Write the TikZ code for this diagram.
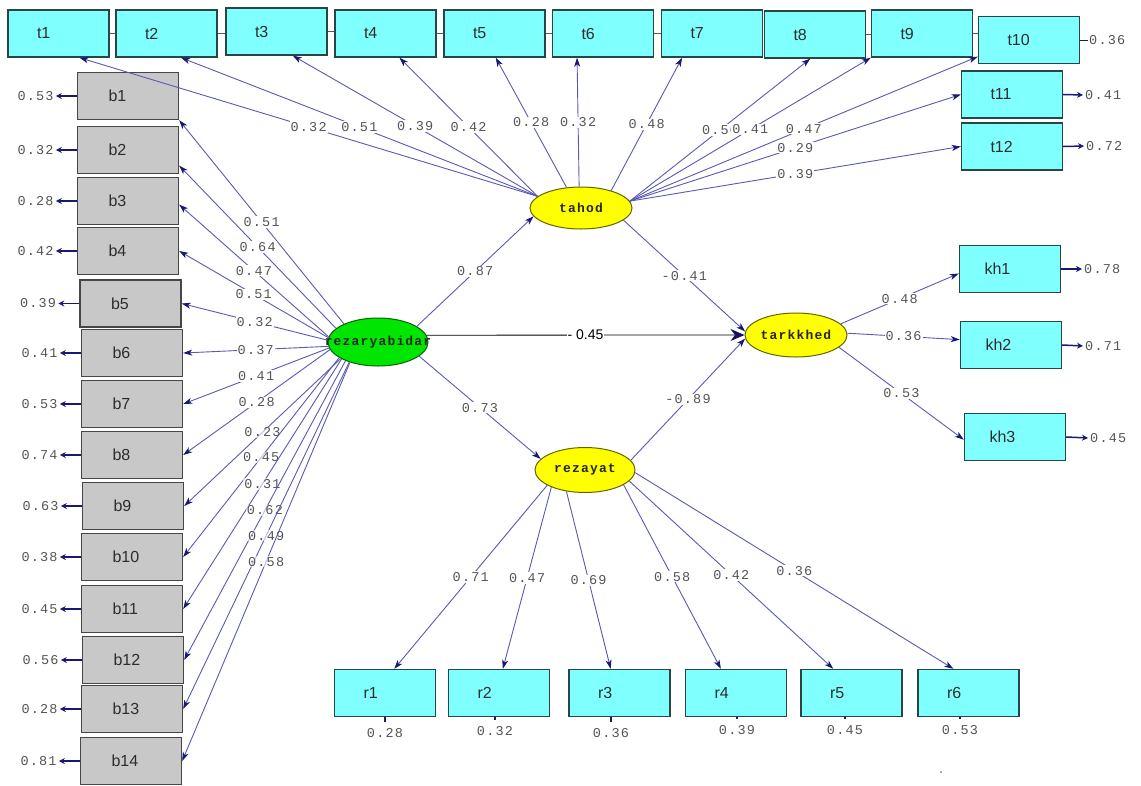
\documentclass[tikz,border=0pt]{standalone}
\usepackage{fontspec}
\setmainfont{Liberation Sans}
\newfontfamily\numfont[LetterSpace=9]{Liberation Mono}
\usetikzlibrary{arrows.meta,shapes.geometric}
\definecolor{cyanbox}{RGB}{128,255,255}
\definecolor{cyanbd}{RGB}{40,70,70}
\definecolor{graybox}{RGB}{200,200,200}
\definecolor{graybd}{RGB}{70,70,70}
\definecolor{lvfill}{RGB}{255,255,0}
\definecolor{lvbd}{RGB}{100,100,0}
\definecolor{grfill}{RGB}{0,230,0}
\definecolor{grbd}{RGB}{0,100,0}
\definecolor{lnc}{RGB}{90,90,180}
\definecolor{hdc}{RGB}{25,25,115}
\definecolor{numc}{RGB}{85,85,85}
\definecolor{txtc}{RGB}{45,45,45}
\begin{document}
\begin{tikzpicture}[x=1pt,y=-1pt,
  obs/.style={rectangle, draw=cyanbd, line width=1.4pt, fill=cyanbox, minimum height=47pt,
    text width=43pt, inner xsep=29pt, inner ysep=0pt, align=left, text=txtc,
    font=\fontsize{16}{16}\selectfont},
  obsg/.style={obs, draw=graybd, fill=graybox, inner xsep=31pt, text width=39pt},
  lat/.style={ellipse, draw=lvbd, line width=1pt, fill=lvfill, inner sep=0pt,
    font=\numfont\bfseries\fontsize{13}{13}\selectfont, text=black!85},
  latg/.style={lat, draw=grbd, fill=grfill},
  arr/.style={draw=lnc, line width=0.9pt, -{Stealth[length=9pt,width=6pt,inset=2.5pt,color=hdc]}},
  err/.style={draw=hdc, line width=1.5pt, -{Stealth[length=6pt,width=6pt]}, shorten >=1pt},
  tickst/.style={draw=hdc, line width=1.6pt, shorten <=5pt},
  gapl/.style={draw=gray!70!black, line width=0.6pt},
  num/.style={font=\numfont\fontsize{13.5}{14}\selectfont, text=numc, inner sep=1pt},
  pl/.style={num, fill=white},
  plt/.style={num, fill=white, fill opacity=0.6, text opacity=1},
]
\useasboundingbox (0,0) rectangle (1141,785);
\fill[white] (0,0) rectangle (1141,785);

% ---- t boxes
\foreach \n/\x/\y in {1/58.5/33.5, 2/166.5/33.5, 3/276.5/31.5, 4/385.5/33.5, 5/494.5/33.5,
  6/603/33.5, 7/712/33.5, 8/815/34.5, 9/922/33.5, 10/1029/40, 11/1012/94.5, 12/1012/146.5}
  \node[obs] (t\n) at (\x,\y) {t\n};

% ---- b boxes
\foreach \n/\x/\y in {1/128/96, 2/128/150, 3/128/201, 4/128/251, 5/130.5/303.5, 6/132/353,
  7/132/404, 8/132/455, 9/133/506, 10/132/557, 11/132/609, 12/133/660, 13/132/709, 14/131/761}
  \node[obsg] (b\n) at (\x,\y) {b\n};

% ---- r boxes
\foreach \n/\x in {1/385, 2/499, 3/619.5, 4/736, 5/851.5, 6/968.5}
  \node[obs] (r\n) at (\x,693) {r\n};

% ---- kh boxes
\node[obs, inner xsep=25pt, text width=51pt] (kh1) at (1010,269) {kh1};
\node[obs, inner xsep=25pt, text width=51pt] (kh2) at (1011,345) {kh2};
\node[obs, inner xsep=25pt, text width=51pt] (kh3) at (1015,437) {kh3};

% ---- latent variables
\node[latg, minimum width=100pt, minimum height=48pt] (rz) at (378,342) {\makebox[0pt]{rezaryabidar}};
\node[lat, minimum width=102pt, minimum height=42pt] (tahod) at (581,208) {\makebox[0pt]{tahod}};
\node[lat, minimum width=102pt, minimum height=44pt] (tk) at (796,335) {\makebox[0pt]{tarkkhed}};
\node[lat, minimum width=100pt, minimum height=45pt] (rezayat) at (585,470) {\makebox[0pt]{rezayat}};

% ---- small gaps between t boxes
\foreach \a/\b in {1/2, 2/3, 3/4, 4/5, 5/6, 6/7, 8/9, 9/10}
  \draw[gapl] (t\a.east) -- (t\a.east -| t\b.west);

% ---- tahod -> t
\foreach \n/\s/\e/\v in {1/165/-49/0.32, 2/165/-59/0.51, 3/165/-56/0.39, 4/165/-60/0.42,
  5/125/-87/0.28, 6/95/-137/0.32, 7/30/-141/0.48, 8/8/-101/0.50, 9/8/south west/0.41,
  10/8/-162/0.47, 11/8/west/0.29, 12/8/west/0.39}
  \draw[arr] (tahod.\s) -- node[pl, midway] {\v} (t\n.\e);

% ---- rezaryabidar -> b
\foreach \n/\s/\e/\v in {1/152/south east/0.51, 2/162/-17/0.64, 3/174/-4/0.47, 4/175/east/0.51,
  5/178/east/0.32, 6/185/east/0.37, 7/187/east/0.41, 8/189/east/0.28}
  \draw[arr] (rz.\s) -- node[pl, midway] {\v} (b\n.\e);
\foreach \n/\s/\e/\v in {9/204/east/0.23, 10/202/east/0.45, 11/205/east/0.31,
  12/210/east/0.62, 13/215/east/0.49, 14/216/east/0.58}
  \draw[arr] (rz.\s) -- node[plt, midway] {\v} (b\n.\e);

% ---- rezayat -> r
\foreach \n/\s/\e/\v in {1/202/69/0.71, 2/207/81/0.47, 3/229/110/0.69, 4/-21/122/0.58,
  5/-14/127/0.42, 6/-3/122/0.36}
  \draw[arr] (rezayat.\s) -- node[pl, midway] {\v} (r\n.\e);

% ---- tarkkhed -> kh
\draw[arr] (tk.14) -- node[pl, midway] {0.48} (kh1.185);
\draw[arr] (tk.2) -- node[pl, midway] {0.36} (kh2.174);
\draw[arr] (tk.-16) -- node[pl, midway] {0.53} (kh3.183);

% ---- structural paths
\draw[arr] (rz.22) -- node[pl, midway] {0.87} (tahod.190);
\draw[arr] (rz.-19) -- node[pl, midway] {0.73} (rezayat.166);
\draw[arr] (tahod.-16) -- node[pl, midway] {-0.41} (tk.176);
\draw[arr] (rezayat.12) -- node[pl, midway] {-0.89} (tk.184);
\draw[draw=black, line width=0.8pt, -{Stealth[length=14pt,width=12pt,color=hdc!80!black]}]
  (rz.8) -- node[midway, fill=white, inner sep=1pt, font=\fontsize{14}{14}\selectfont] {- 0.45} (tk.west);

% ---- error terms, left
\foreach \n/\v in {1/0.53, 2/0.32, 3/0.28, 4/0.42, 5/0.39, 6/0.41, 7/0.53, 8/0.74, 9/0.63,
  10/0.38, 11/0.45, 12/0.56, 13/0.28, 14/0.81}
  {\node[num, anchor=east] (eb\n) at ([xshift=-22pt]b\n.west) {\v};
   \draw[err] (b\n.west) -- (eb\n.east);}

% ---- error terms, right
\node[num, anchor=west] (et10) at (1088,40) {0.36};
\draw[draw=hdc, line width=1pt] (t10.east) -- (et10.west);
\node[num, anchor=west] (et11) at (1084,95) {0.41};
\draw[err] (t11.east) -- (et11.west);
\node[num, anchor=west] (et12) at (1085,146) {0.72};
\draw[err] (t12.east) -- (et12.west);
\node[num, anchor=west] (ek1) at (1083,269) {0.78};
\draw[err] (kh1.east) -- (ek1.west);
\node[num, anchor=west] (ek2) at (1084,346) {0.71};
\draw[err] (kh2.east) -- (ek2.west);
\node[num, anchor=west] (ek3) at (1089,438) {0.45};
\draw[err] (kh3.east) -- (ek3.west);

% ---- error terms, bottom
\foreach \n/\x/\y/\v in {1/385/733/0.28, 2/495/731/0.32, 3/611/733/0.36, 4/737/730/0.39,
  5/845/730/0.45, 6/960/730/0.53}
  {\node[num] (er\n) at (\x,\y) {\v};
   \draw[tickst] (er\n.north) -- (er\n.north |- r\n.south);}

% stray mark
\fill[gray] (941,772) circle (1);
\end{tikzpicture}
\end{document}
